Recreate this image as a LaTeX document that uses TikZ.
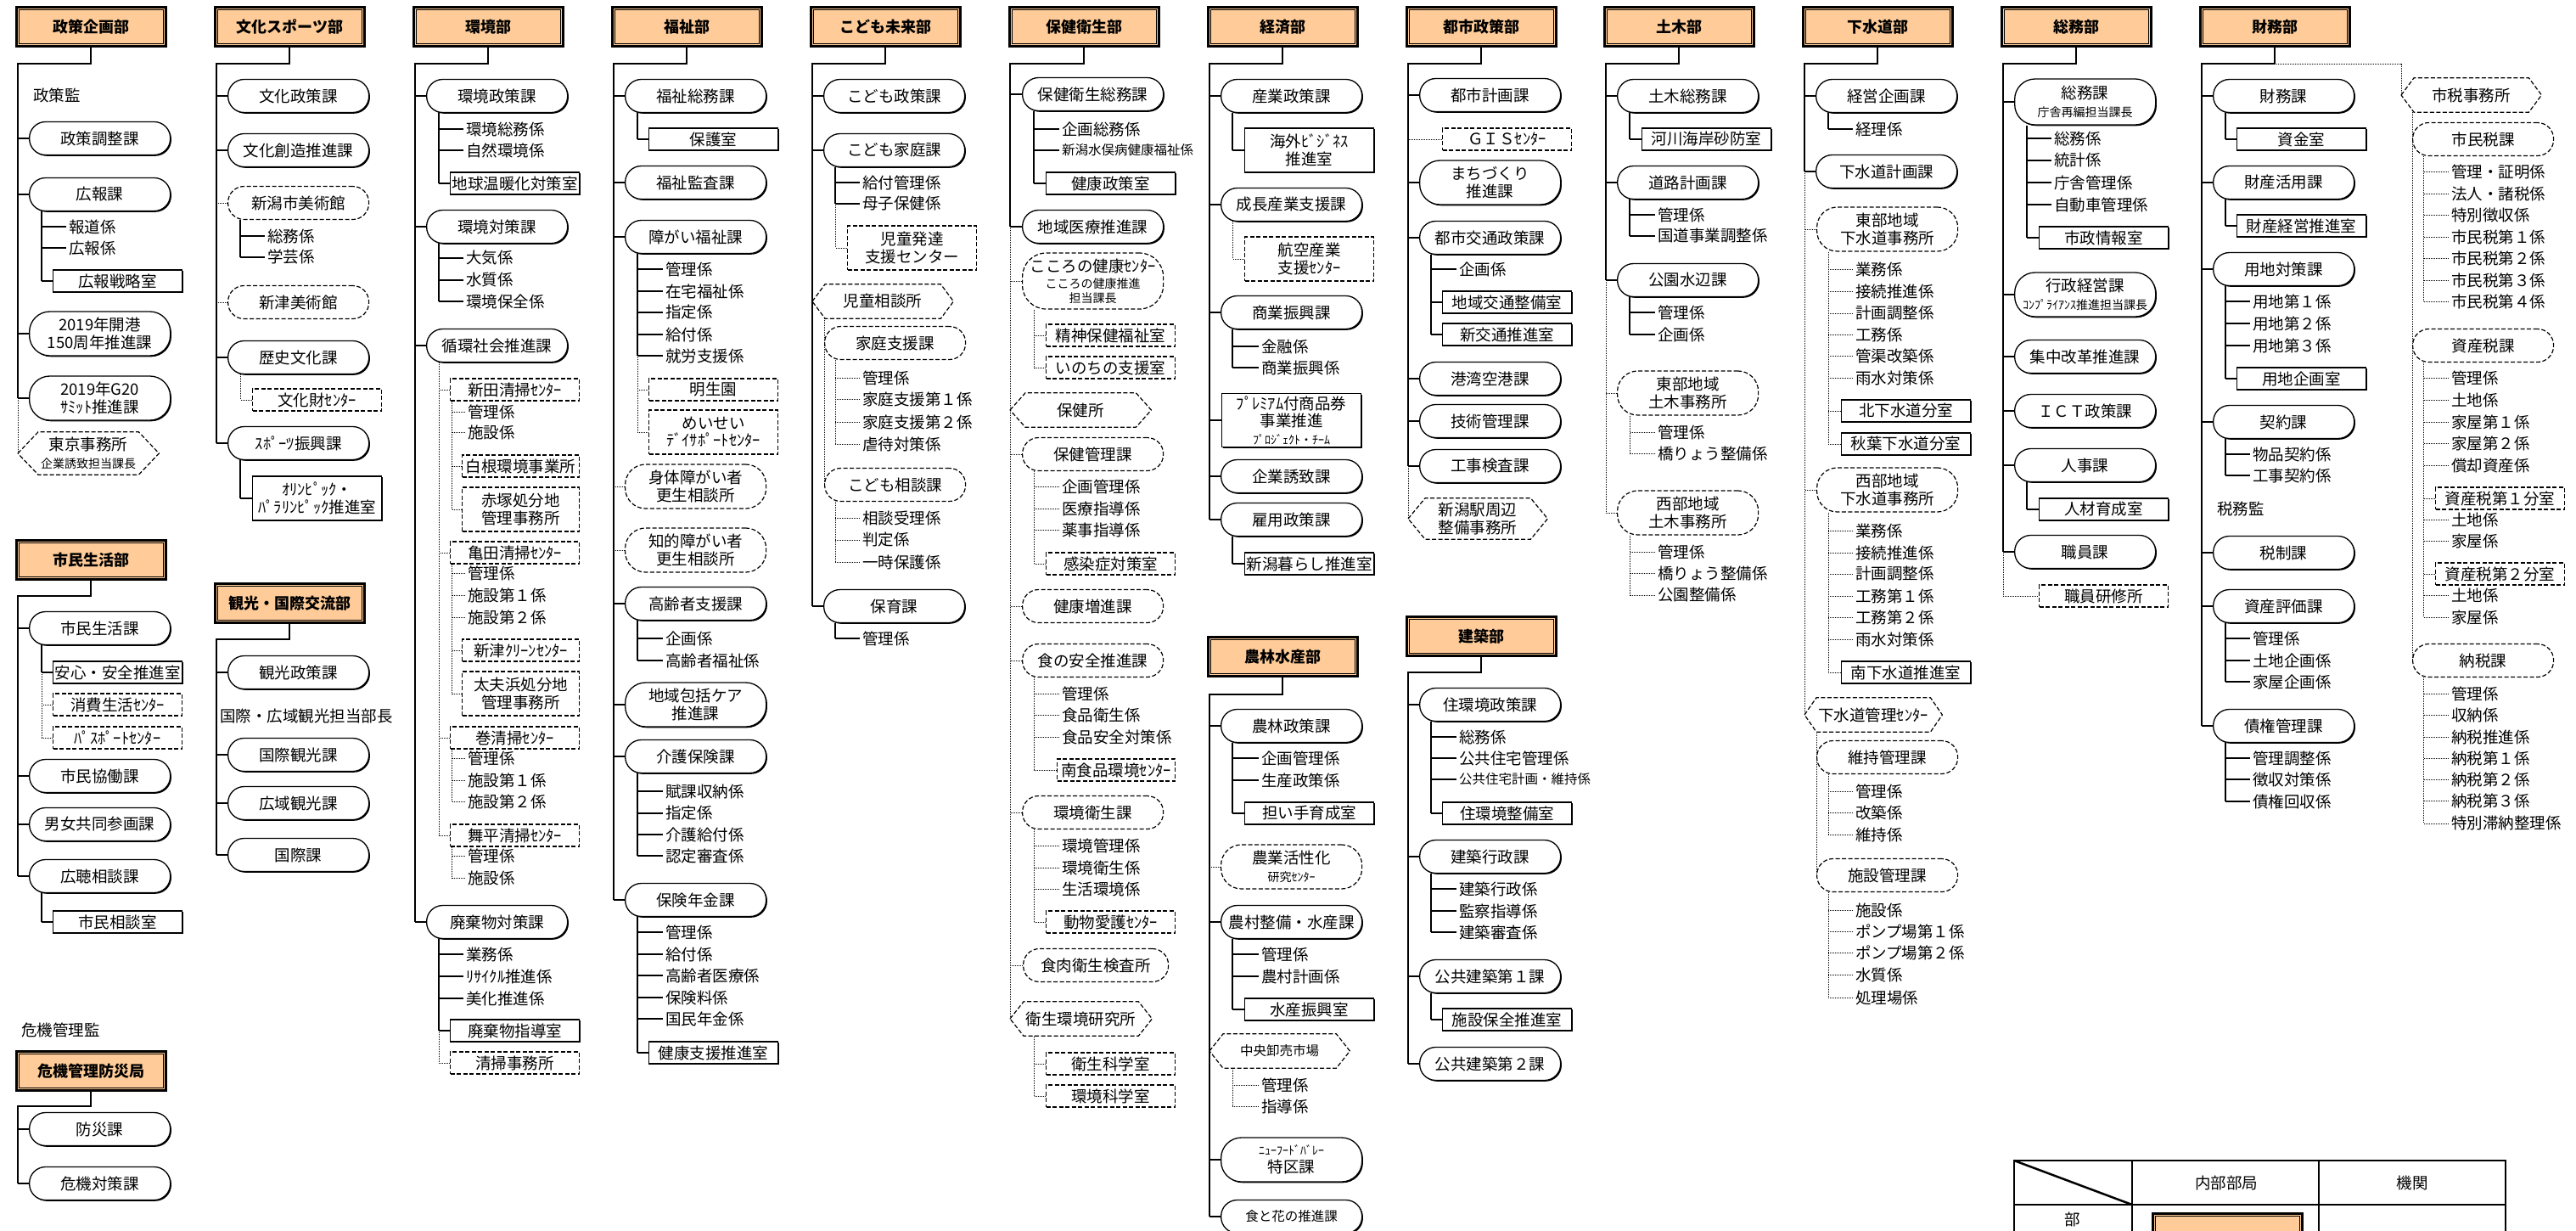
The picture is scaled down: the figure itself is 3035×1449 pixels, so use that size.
\documentclass[tikz,border=0pt]{standalone}
\usepackage{fontspec}
\setmainfont{Noto Sans CJK JP}
\usetikzlibrary{shadows}
\definecolor{deptfill}{HTML}{FFCC99}
\pgfdeclarelayer{bg}
\pgfsetlayers{bg,main}
\newcommand\Fm{\fontsize{18.5pt}{20.5pt}\selectfont}
\newcommand\Fsm{\fontsize{14pt}{16pt}\selectfont}
\newcommand\Fsf{\fontsize{15.5pt}{17pt}\selectfont}
\newcommand\Fh{\fontsize{18pt}{20pt}\selectfont\bfseries}
\newcommand\Hk[2]{\draw[ln] (#2.west) -- (#2.west -| #1);}
\newcommand\Hd[2]{\draw[dl] (#2.west) -- (#2.west -| #1);}
\newcommand\Sv[3]{\draw[ln] (#2.south -| #1) -- (#1 |- #3.west);}
\newcommand\Sd[3]{\draw[dl] (#2.south -| #1) -- (#1 |- #3.west);}
\newcommand\Vd[3]{\draw[dl] (#1 |- #2.west) -- (#1 |- #3.west);}
\newcommand\Dept[4]{\node[dept] (#1) at (#2,#3) {#4};
  \draw[line width=0.8pt] ([shift={(4pt,-4pt)}]#1.north west) rectangle ([shift={(-4pt,4pt)}]#1.south east);}
\newcommand\Hex[2]{\draw[dsh] (#1.west) -- ([xshift=#2pt]#1.north west) -- ([xshift=-#2pt]#1.north east) -- (#1.east) -- ([xshift=-#2pt]#1.south east) -- ([xshift=#2pt]#1.south west) -- cycle;}
\newcommand\Kk[4]{\node[kak] (#1) at (#2,#3) {#4};}
\tikzset{
 ln/.style={line width=1.8pt},
 dl/.style={line width=1pt, dash pattern=on 1pt off 1pt},
 dsh/.style={line width=1.2pt, dash pattern=on 5pt off 2.5pt},
 base/.style={inner sep=0pt, anchor=west, font=\Fm, align=center},
 shd0/.style={drop shadow={shadow xshift=1.3pt, shadow yshift=-1.3pt, fill=black, opacity=1}},
 ka/.style={base, draw, line width=1.3pt, fill=white, rounded corners=19pt, minimum width=166pt, minimum height=39pt, shd0},
 kat/.style={ka, minimum height=52pt, rounded corners=24pt},
 kad/.style={base, draw, dsh, rounded corners=19pt, minimum width=166pt, minimum height=39pt},
 kadt/.style={kad, minimum height=52pt, rounded corners=24pt},
 sh/.style={base, draw, line width=1.3pt, fill=white, minimum width=152pt, minimum height=26pt, shd0},
 shd/.style={base, draw, dsh, minimum width=152pt, minimum height=26pt},
 hx/.style={base, minimum width=166pt, minimum height=40pt},
 kak/.style={inner sep=0pt, outer xsep=3pt, anchor=west, font=\Fm},
 tx/.style={inner sep=0pt, anchor=west, font=\Fm},
 dept/.style={draw, line width=2.6pt, fill=deptfill, minimum width=176pt, minimum height=46pt, inner sep=0pt, anchor=north west, font=\Fh},
}
\begin{document}
\begin{tikzpicture}[x=1pt,y=-1pt]
\useasboundingbox (0,0) rectangle (3035,1449);
% ---------------- column 0
\Dept{h0}{18}{7}{政策企画部}
\coordinate (t0) at (21,75); \coordinate (s0) at (49,0);
\node[tx] (c0p) at (39,112) {政策監};
\node[ka] (c0a) at (34,163) {政策調整課};
\node[ka] (c0b) at (34,229) {広報課};
\Kk{c0b1}{78}{267}{報道係}
\Kk{c0b2}{78}{292}{広報係}
\node[sh] (c0b3) at (62,331) {広報戦略室};
\node[kat] (c0c) at (34,393) {2019年開港\\150周年推進課};
\node[kat] (c0d) at (34,469) {2019年G20\\ｻﾐｯﾄ推進課};
\node[hx, minimum width=166pt, minimum height=50pt] (c0e) at (21,534) {東京事務所\\{\Fsm 企業誘致担当課長}};
\Hex{c0e}{24}
\Dept{h0b}{18}{635}{市民生活部}
\coordinate (t0b) at (21,702);
\node[ka] (c0f) at (34,740) {市民生活課};
\node[sh] (c0f1) at (62,792) {安心・安全推進室};
\node[shd] (c0f2) at (62,830) {消費生活ｾﾝﾀｰ};
\node[shd] (c0f3) at (62,869) {ﾊﾟｽﾎﾟｰﾄｾﾝﾀｰ};
\node[ka] (c0g) at (34,914) {市民協働課};
\node[ka] (c0h) at (34,971) {男女共同参画課};
\node[ka] (c0i) at (34,1032) {広聴相談課};
\node[sh] (c0i1) at (62,1086) {市民相談室};
\node[tx] (c0q) at (25,1213) {危機管理監};
\Dept{h0c}{18}{1237}{危機管理防災局}
\coordinate (t0c) at (21,1303);
\node[ka] (c0r) at (34,1330) {防災課};
\node[ka] (c0s) at (34,1394) {危機対策課};
% ---------------- column 1
\Dept{h1}{252}{7}{文化スポーツ部}
\coordinate (t1) at (255,75); \coordinate (s1) at (283,0);
\node[ka] (c1a) at (268,113) {文化政策課};
\node[ka] (c1b) at (268,177) {文化創造推進課};
\node[kad] (c1c) at (268,239) {新潟市美術館};
\Kk{c1c1}{312}{278}{総務係}
\Kk{c1c2}{312}{303}{学芸係}
\node[kad] (c1d) at (268,356) {新津美術館};
\node[ka] (c1e) at (268,421) {歴史文化課};
\node[shd] (c1e1) at (297,471) {文化財ｾﾝﾀｰ};
\node[ka] (c1f) at (268,522) {ｽﾎﾟｰﾂ振興課};
\node[sh, minimum height=52pt] (c1f1) at (297,587) {ｵﾘﾝﾋﾟｯｸ・\\ﾊﾟﾗﾘﾝﾋﾟｯｸ推進室};
\Dept{h1b}{252}{686}{観光・国際交流部}
\coordinate (t1b) at (255,753);
\node[ka] (c1g) at (268,792) {観光政策課};
\node[tx] (c1p) at (259,843) {国際・広域観光担当部長};
\node[ka] (c1h) at (268,889) {国際観光課};
\node[ka] (c1i) at (268,946) {広域観光課};
\node[ka] (c1j) at (268,1007) {国際課};
% ---------------- column 2
\Dept{h2}{486}{7}{環境部}
\coordinate (t2) at (489,75); \coordinate (s2) at (517,0); \coordinate (u2) at (532,0);
\node[ka] (c2a) at (502,113) {環境政策課};
\Kk{c2a1}{546}{152}{環境総務係}
\Kk{c2a2}{546}{177}{自然環境係}
\node[sh] (c2a3) at (530,216) {地球温暖化対策室};
\node[ka] (c2b) at (502,267) {環境対策課};
\Kk{c2b1}{546}{304}{大気係}
\Kk{c2b2}{546}{330}{水質係}
\Kk{c2b3}{546}{355}{環境保全係}
\node[ka] (c2c) at (502,407) {循環社会推進課};
\node[shd] (c2d) at (530,459) {新田清掃ｾﾝﾀｰ};
\Kk{c2d1}{548}{485}{管理係}
\Kk{c2d2}{548}{509}{施設係}
\node[shd, minimum width=138pt] (c2d3) at (544,549) {白根環境事業所};
\node[shd, minimum width=138pt, minimum height=52pt] (c2d4) at (544,600) {赤塚処分地\\管理事務所};
\node[shd] (c2e) at (530,651) {亀田清掃ｾﾝﾀｰ};
\Kk{c2e1}{548}{675}{管理係}
\Kk{c2e2}{548}{701}{施設第１係}
\Kk{c2e3}{548}{727}{施設第２係}
\node[shd, minimum width=138pt] (c2e4) at (544,766) {新津ｸﾘｰﾝｾﾝﾀｰ};
\node[shd, minimum width=138pt, minimum height=52pt] (c2e5) at (544,817) {太夫浜処分地\\管理事務所};
\node[shd] (c2f) at (530,869) {巻清掃ｾﾝﾀｰ};
\Kk{c2f1}{548}{893}{管理係}
\Kk{c2f2}{548}{919}{施設第１係}
\Kk{c2f3}{548}{944}{施設第２係}
\node[shd] (c2g) at (530,984) {舞平清掃ｾﾝﾀｰ};
\Kk{c2g1}{548}{1008}{管理係}
\Kk{c2g2}{548}{1034}{施設係}
\node[ka] (c2h) at (502,1086) {廃棄物対策課};
\Kk{c2h1}{546}{1124}{業務係}
\Kk{c2h2}{546}{1150}{ﾘｻｲｸﾙ推進係}
\Kk{c2h3}{546}{1176}{美化推進係}
\node[sh] (c2h4) at (530,1214) {廃棄物指導室};
\node[shd] (c2h5) at (530,1252) {清掃事務所};
% ---------------- column 3
\Dept{h3}{720}{7}{福祉部}
\coordinate (t3) at (723,75); \coordinate (s3) at (751,0);
\node[ka] (c3a) at (736,113) {福祉総務課};
\node[sh] (c3a1) at (764,164) {保護室};
\node[ka] (c3b) at (736,215) {福祉監査課};
\node[ka] (c3c) at (736,279) {障がい福祉課};
\Kk{c3c1}{781}{317}{管理係}
\Kk{c3c2}{781}{343}{在宅福祉係}
\Kk{c3c3}{781}{368}{指定係}
\Kk{c3c4}{781}{394}{給付係}
\Kk{c3c5}{781}{419}{就労支援係}
\node[shd] (c3c6) at (764,459) {明生園};
\node[shd, minimum height=52pt] (c3c7) at (764,509) {めいせい\\ﾃﾞｲｻﾎﾟｰﾄｾﾝﾀｰ};
\node[kadt] (c3d) at (736,573) {身体障がい者\\更生相談所};
\node[kadt] (c3e) at (736,648) {知的障がい者\\更生相談所};
\node[ka] (c3f) at (736,711) {高齢者支援課};
\Kk{c3f1}{781}{752}{企画係}
\Kk{c3f2}{781}{778}{高齢者福祉係}
\node[kat] (c3g) at (736,830) {地域包括ケア\\推進課};
\node[ka] (c3h) at (736,891) {介護保険課};
\Kk{c3h1}{781}{932}{賦課収納係}
\Kk{c3h2}{781}{958}{指定係}
\Kk{c3h3}{781}{983}{介護給付係}
\Kk{c3h4}{781}{1008}{認定審査係}
\node[ka] (c3i) at (736,1060) {保険年金課};
\Kk{c3i1}{781}{1098}{管理係}
\Kk{c3i2}{781}{1124}{給付係}
\Kk{c3i3}{781}{1149}{高齢者医療係}
\Kk{c3i4}{781}{1175}{保険料係}
\Kk{c3i5}{781}{1200}{国民年金係}
\node[sh] (c3i6) at (764,1240) {健康支援推進室};
% ---------------- column 4
\Dept{h4}{954}{7}{こども未来部}
\coordinate (t4) at (957,75); \coordinate (s4) at (984,0); \coordinate (v4) at (971,0);
\node[ka] (c4a) at (970,113) {こども政策課};
\node[ka] (c4b) at (970,177) {こども家庭課};
\Kk{c4b1}{1013}{215}{給付管理係}
\Kk{c4b2}{1013}{240}{母子保健係}
\node[shd, minimum height=52pt] (c4b3) at (998,292) {児童発達\\支援センター};
\node[hx] (c4c) at (957,355) {児童相談所};
\Hex{c4c}{15}
\node[kad] (c4d) at (971,404) {家庭支援課};
\Kk{c4d1}{1013}{445}{管理係}
\Kk{c4d2}{1013}{470}{家庭支援第１係}
\Kk{c4d3}{1013}{497}{家庭支援第２係}
\Kk{c4d4}{1013}{523}{虐待対策係}
\node[kad] (c4e) at (971,571) {こども相談課};
\Kk{c4e1}{1013}{610}{相談受理係}
\Kk{c4e2}{1013}{636}{判定係}
\Kk{c4e3}{1013}{662}{一時保護係}
\node[ka] (c4f) at (970,714) {保育課};
\Kk{c4f1}{1013}{752}{管理係}
% ---------------- column 5
\Dept{h5}{1188}{7}{保健衛生部}
\coordinate (t5) at (1190,75); \coordinate (s5) at (1218,0);
\node[ka] (c5a) at (1204,111) {保健衛生総務課};
\Kk{c5a1}{1248}{152}{企画総務係}
\node[kak, font=\Fsf] (c5a2) at (1248,177) {新潟水俣病健康福祉係};
\node[sh] (c5a3) at (1232,216) {健康政策室};
\node[ka] (c5b) at (1204,267) {地域医療推進課};
\node[kad, minimum height=66pt, rounded corners=28pt] (c5c) at (1204,331) {こころの健康ｾﾝﾀｰ\\[-1pt]{\Fsm こころの健康推進}\\[-4pt]{\Fsm 担当課長}};
\node[shd] (c5c1) at (1232,395) {精神保健福祉室};
\node[shd] (c5c2) at (1232,433) {いのちの支援室};
\node[hx] (c5d) at (1190,483) {保健所};
\Hex{c5d}{18}
\node[kad] (c5e) at (1204,535) {保健管理課};
\Kk{c5e1}{1248}{573}{企画管理係}
\Kk{c5e2}{1248}{599}{医療指導係}
\Kk{c5e3}{1248}{624}{薬事指導係}
\node[shd] (c5e4) at (1232,664) {感染症対策室};
\node[kad] (c5f) at (1204,714) {健康増進課};
\node[kad] (c5g) at (1204,778) {食の安全推進課};
\Kk{c5g1}{1248}{817}{管理係}
\Kk{c5g2}{1248}{842}{食品衛生係}
\Kk{c5g3}{1248}{868}{食品安全対策係}
\node[shd, minimum width=139pt] (c5g4) at (1245,907) {南食品環境ｾﾝﾀｰ};
\node[kad] (c5h) at (1204,957) {環境衛生課};
\Kk{c5h1}{1248}{996}{環境管理係}
\Kk{c5h2}{1248}{1022}{環境衛生係}
\Kk{c5h3}{1248}{1047}{生活環境係}
\node[shd] (c5h4) at (1232,1086) {動物愛護ｾﾝﾀｰ};
\node[kad, minimum width=171pt] (c5i) at (1205,1137) {食肉衛生検査所};
\node[hx, minimum width=167pt] (c5j) at (1190,1200) {衛生環境研究所};
\Hex{c5j}{16}
\node[shd] (c5j1) at (1232,1253) {衛生科学室};
\node[shd] (c5j2) at (1232,1291) {環境科学室};
% ---------------- column 6
\Dept{h6}{1422}{7}{経済部}
\coordinate (t6) at (1425,75); \coordinate (s6) at (1452,0);
\node[ka] (c6a) at (1438,113) {産業政策課};
\node[sh, minimum height=52pt] (c6a1) at (1466,177) {海外ﾋﾞｼﾞﾈｽ\\推進室};
\node[ka] (c6b) at (1438,241) {成長産業支援課};
\node[shd, minimum height=52pt] (c6b1) at (1466,305) {航空産業\\支援ｾﾝﾀｰ};
\node[ka] (c6c) at (1438,368) {商業振興課};
\Kk{c6c1}{1483}{408}{金融係}
\Kk{c6c2}{1483}{433}{商業振興係}
\node[sh, minimum width=164pt, minimum height=63pt] (c6d) at (1439,495) {ﾌﾟﾚﾐｱﾑ付商品券\\事業推進\\{\Fsm ﾌﾟﾛｼﾞｪｸﾄ・ﾁｰﾑ}};
\node[ka] (c6e) at (1438,561) {企業誘致課};
\node[ka] (c6f) at (1438,612) {雇用政策課};
\node[sh] (c6f1) at (1466,664) {新潟暮らし推進室};
\Dept{h6b}{1422}{749}{農林水産部}
\coordinate (t6b) at (1425,818);
\node[ka] (c6g) at (1438,855) {農林政策課};
\Kk{c6g1}{1483}{893}{企画管理係}
\Kk{c6g2}{1483}{919}{生産政策係}
\node[sh] (c6g3) at (1466,958) {担い手育成室};
\node[kadt] (c6h) at (1438,1021) {農業活性化\\{\Fsm 研究ｾﾝﾀｰ}};
\node[ka] (c6i) at (1438,1086) {農村整備・水産課};
\Kk{c6i1}{1483}{1124}{管理係}
\Kk{c6i2}{1483}{1150}{農村計画係}
\node[sh] (c6i3) at (1466,1189) {水産振興室};
\node[hx, minimum width=165pt, font=\Fsf] (c6j) at (1425,1238) {中央卸売市場};
\Hex{c6j}{16}
\Kk{c6j1}{1483}{1278}{管理係}
\Kk{c6j2}{1483}{1303}{指導係}
\node[kat] (c6k) at (1438,1366) {{\Fsm ﾆｭｰﾌｰﾄﾞﾊﾞﾚｰ}\\特区課};
\node[ka, font=\Fsf] (c6l) at (1438,1433) {食と花の推進課};
% ---------------- column 7
\Dept{h7}{1656}{7}{都市政策部}
\coordinate (t7) at (1659,75); \coordinate (s7) at (1686,0);
\node[ka] (c7a) at (1672,112) {都市計画課};
\node[shd] (c7b) at (1699,164) {ＧＩＳｾﾝﾀｰ};
\node[kat] (c7c) at (1672,215) {まちづくり\\推進課};
\node[ka] (c7d) at (1672,280) {都市交通政策課};
\Kk{c7d1}{1716}{317}{企画係}
\node[sh] (c7d2) at (1699,356) {地域交通整備室};
\node[sh] (c7d3) at (1699,394) {新交通推進室};
\node[ka] (c7e) at (1672,446) {港湾空港課};
\node[ka] (c7f) at (1672,496) {技術管理課};
\node[ka] (c7g) at (1672,549) {工事検査課};
\node[hx, minimum width=164pt, minimum height=48pt] (c7h) at (1659,611) {新潟駅周辺\\整備事務所};
\Hex{c7h}{20}
\Dept{h7b}{1656}{725}{建築部}
\coordinate (t7b) at (1659,792);
\node[ka] (c7i) at (1672,830) {住環境政策課};
\Kk{c7i1}{1716}{868}{総務係}
\Kk{c7i2}{1716}{893}{公共住宅管理係}
\node[kak, font=\Fsf] (c7i3) at (1716,918) {公共住宅計画・維持係};
\node[sh] (c7i4) at (1699,958) {住環境整備室};
\node[ka] (c7j) at (1672,1009) {建築行政課};
\Kk{c7j1}{1716}{1047}{建築行政係}
\Kk{c7j2}{1716}{1073}{監察指導係}
\Kk{c7j3}{1716}{1098}{建築審査係}
\node[ka] (c7k) at (1672,1150) {公共建築第１課};
\node[sh] (c7k1) at (1699,1201) {施設保全推進室};
\node[ka] (c7l) at (1672,1253) {公共建築第２課};
% ---------------- column 8
\Dept{h8}{1889}{7}{土木部}
\coordinate (t8) at (1892,75); \coordinate (s8) at (1920,0);
\node[ka] (c8a) at (1905,113) {土木総務課};
\node[sh] (c8a1) at (1934,164) {河川海岸砂防室};
\node[ka] (c8b) at (1905,215) {道路計画課};
\Kk{c8b1}{1950}{253}{管理係}
\Kk{c8b2}{1950}{278}{国道事業調整係}
\node[ka] (c8c) at (1905,330) {公園水辺課};
\Kk{c8c1}{1950}{368}{管理係}
\Kk{c8c2}{1950}{394}{企画係}
\node[kadt] (c8d) at (1905,463) {東部地域\\土木事務所};
\Kk{c8d1}{1950}{509}{管理係}
\Kk{c8d2}{1950}{534}{橋りょう整備係}
\node[kadt] (c8e) at (1905,604) {西部地域\\土木事務所};
\Kk{c8e1}{1950}{650}{管理係}
\Kk{c8e2}{1950}{675}{橋りょう整備係}
\Kk{c8e3}{1950}{701}{公園整備係}
% ---------------- column 9
\Dept{h9}{2123}{7}{下水道部}
\coordinate (t9) at (2126,75); \coordinate (s9) at (2154,0); \coordinate (v9) at (2140,0);
\node[ka] (c9a) at (2139,113) {経営企画課};
\Kk{c9a1}{2183}{152}{経理係}
\node[ka] (c9b) at (2139,202) {下水道計画課};
\node[kadt] (c9c) at (2140,270) {東部地域\\下水道事務所};
\Kk{c9c1}{2183}{317}{業務係}
\Kk{c9c2}{2183}{343}{接続推進係}
\Kk{c9c3}{2183}{369}{計画調整係}
\Kk{c9c4}{2183}{394}{工務係}
\Kk{c9c5}{2183}{419}{管渠改築係}
\Kk{c9c6}{2183}{445}{雨水対策係}
\node[sh] (c9c7) at (2169,484) {北下水道分室};
\node[sh] (c9c8) at (2169,523) {秋葉下水道分室};
\node[kadt] (c9d) at (2140,577) {西部地域\\下水道事務所};
\Kk{c9d1}{2183}{625}{業務係}
\Kk{c9d2}{2183}{651}{接続推進係}
\Kk{c9d3}{2183}{676}{計画調整係}
\Kk{c9d4}{2183}{702}{工務第１係}
\Kk{c9d5}{2183}{727}{工務第２係}
\Kk{c9d6}{2183}{753}{雨水対策係}
\node[sh] (c9d7) at (2169,792) {南下水道推進室};
\node[hx, minimum width=162pt] (c9e) at (2126,842) {下水道管理ｾﾝﾀｰ};
\Hex{c9e}{14}
\node[kad] (c9f) at (2140,892) {維持管理課};
\Kk{c9f1}{2183}{932}{管理係}
\Kk{c9f2}{2183}{957}{改築係}
\Kk{c9f3}{2183}{983}{維持係}
\node[kad] (c9g) at (2140,1031) {施設管理課};
\Kk{c9g1}{2183}{1072}{施設係}
\Kk{c9g2}{2183}{1097}{ポンプ場第１係}
\Kk{c9g3}{2183}{1122}{ポンプ場第２係}
\Kk{c9g4}{2183}{1148}{水質係}
\Kk{c9g5}{2183}{1175}{処理場係}
% ---------------- column 10
\Dept{h10}{2357}{7}{総務部}
\coordinate (t10) at (2360,75); \coordinate (s10) at (2388,0);
\node[ka, minimum height=54pt, rounded corners=24pt] (c10a) at (2373,120) {総務課\\[1pt]{\Fsm 庁舎再編担当課長}};
\Kk{c10a1}{2417}{163}{総務係}
\Kk{c10a2}{2417}{189}{統計係}
\Kk{c10a3}{2417}{215}{庁舎管理係}
\Kk{c10a4}{2417}{241}{自動車管理係}
\node[sh] (c10a5) at (2402,280) {市政情報室};
\node[kat] (c10b) at (2373,347) {行政経営課\\{\Fsm ｺﾝﾌﾟﾗｲｱﾝｽ推進担当課長}};
\node[ka] (c10c) at (2373,420) {集中改革推進課};
\node[ka] (c10d) at (2373,484) {ＩＣＴ政策課};
\node[ka] (c10e) at (2373,548) {人事課};
\node[sh] (c10e1) at (2402,600) {人材育成室};
\node[ka] (c10f) at (2373,650) {職員課};
\node[shd] (c10g) at (2402,702) {職員研修所};
% ---------------- column 11
\Dept{h11}{2591}{7}{財務部}
\coordinate (t11) at (2594,75); \coordinate (s11) at (2622,0); \coordinate (j11) at (2829,75);
\node[ka] (c11a) at (2607,113) {財務課};
\node[sh] (c11a1) at (2635,164) {資金室};
\node[ka] (c11b) at (2607,215) {財産活用課};
\node[sh] (c11b1) at (2635,266) {財産経営推進室};
\node[ka] (c11c) at (2607,317) {用地対策課};
\Kk{c11c1}{2651}{355}{用地第１係}
\Kk{c11c2}{2651}{381}{用地第２係}
\Kk{c11c3}{2651}{407}{用地第３係}
\node[sh] (c11c4) at (2635,446) {用地企画室};
\node[ka] (c11d) at (2607,497) {契約課};
\Kk{c11d1}{2651}{535}{物品契約係}
\Kk{c11d2}{2651}{560}{工事契約係}
\node[tx] (c11p) at (2612,599) {税務監};
\node[ka] (c11e) at (2607,651) {税制課};
\node[ka] (c11f) at (2607,714) {資産評価課};
\Kk{c11f1}{2651}{752}{管理係}
\Kk{c11f2}{2651}{778}{土地企画係}
\Kk{c11f3}{2651}{803}{家屋企画係}
\node[ka] (c11g) at (2607,855) {債権管理課};
\Kk{c11g1}{2651}{893}{管理調整係}
\Kk{c11g2}{2651}{918}{徴収対策係}
\Kk{c11g3}{2651}{944}{債権回収係}
% ---------------- column 12
\coordinate (t12) at (2842,0); \coordinate (s12) at (2855,0);
\node[hx, minimum width=165pt] (c12a) at (2829,112) {市税事務所};
\Hex{c12a}{15}
\node[kad] (c12b) at (2842,164) {市民税課};
\Kk{c12b1}{2885}{202}{管理・証明係}
\Kk{c12b2}{2885}{228}{法人・諸税係}
\Kk{c12b3}{2885}{253}{特別徴収係}
\Kk{c12b4}{2885}{279}{市民税第１係}
\Kk{c12b5}{2885}{304}{市民税第２係}
\Kk{c12b6}{2885}{330}{市民税第３係}
\Kk{c12b7}{2885}{355}{市民税第４係}
\node[kad] (c12c) at (2842,407) {資産税課};
\Kk{c12c1}{2885}{445}{管理係}
\Kk{c12c2}{2885}{471}{土地係}
\Kk{c12c3}{2885}{497}{家屋第１係}
\Kk{c12c4}{2885}{522}{家屋第２係}
\Kk{c12c5}{2885}{548}{償却資産係}
\node[shd] (c12c6) at (2869,587) {資産税第１分室};
\Kk{c12c7}{2885}{612}{土地係}
\Kk{c12c8}{2885}{637}{家屋係}
\node[shd] (c12c9) at (2869,676) {資産税第２分室};
\Kk{c12c10}{2885}{701}{土地係}
\Kk{c12c11}{2885}{727}{家屋係}
\node[kad] (c12d) at (2842,778) {納税課};
\Kk{c12d1}{2885}{817}{管理係}
\Kk{c12d2}{2885}{842}{収納係}
\Kk{c12d3}{2885}{868}{納税推進係}
\Kk{c12d4}{2885}{893}{納税第１係}
\Kk{c12d5}{2885}{918}{納税第２係}
\Kk{c12d6}{2885}{943}{納税第３係}
\Kk{c12d7}{2885}{970}{特別滞納整理係}
% ---------------- legend
\node[font=\Fm] (lg1) at (2623,1393) {内部部局};
\node[font=\Fm] (lg2) at (2842,1393) {機関};
\node[font=\Fm] (lg3) at (2442,1436) {部};
\Dept{lg4}{2535}{1428}{}
\draw[line width=1.5pt] (2373,1367) rectangle (2952,1480);
\draw[line width=1.5pt] (2512,1367) -- (2512,1480) (2732,1367) -- (2732,1480) (2373,1419) -- (2952,1419);
\draw[line width=2.5pt] (2373,1367) -- (2512,1419);
% ================= connectors
\begin{pgfonlayer}{bg}
\fill[white] (0,0) rectangle (3035,1449);
% col 0
\draw[ln] (h0.south) |- (t0) -- (t0 |- c0d.west);
\draw[dl] (t0 |- c0d.west) -- (c0e.west);
\Hk{t0}{c0a}\Hk{t0}{c0b}\Hk{t0}{c0c}\Hk{t0}{c0d}
\Sv{s0}{c0b}{c0b3}\Hk{s0}{c0b1}\Hk{s0}{c0b2}\Hk{s0}{c0b3}
\draw[ln] (h0b.south) |- (t0b) -- (t0b |- c0i.west);
\Hk{t0b}{c0f}\Hk{t0b}{c0g}\Hk{t0b}{c0h}\Hk{t0b}{c0i}
\Sv{s0}{c0f}{c0f1}\Hk{s0}{c0f1}\Vd{s0}{c0f1}{c0f3}\Hd{s0}{c0f2}\Hd{s0}{c0f3}
\Sv{s0}{c0i}{c0i1}\Hk{s0}{c0i1}
\draw[ln] (h0c.south) |- (t0c) -- (t0c |- c0s.west);
\Hk{t0c}{c0r}\Hk{t0c}{c0s}
% col 1
\draw[ln] (h1.south) |- (t1) -- (t1 |- c1f.west);
\Hk{t1}{c1a}\Hk{t1}{c1b}\Hd{t1}{c1c}\Hd{t1}{c1d}\Hk{t1}{c1e}\Hk{t1}{c1f}
\Sv{s1}{c1c}{c1c2}\Hk{s1}{c1c1}\Hk{s1}{c1c2}
\Sd{s1}{c1e}{c1e1}\Hd{s1}{c1e1}
\Sv{s1}{c1f}{c1f1}\Hk{s1}{c1f1}
\draw[ln] (h1b.south) |- (t1b) -- (t1b |- c1j.west);
\Hk{t1b}{c1g}\Hk{t1b}{c1h}\Hk{t1b}{c1i}\Hk{t1b}{c1j}
% col 2
\draw[ln] (h2.south) |- (t2) -- (t2 |- c2h.west);
\Hk{t2}{c2a}\Hk{t2}{c2b}\Hk{t2}{c2c}\Hk{t2}{c2h}
\Sv{s2}{c2a}{c2a3}\Hk{s2}{c2a1}\Hk{s2}{c2a2}\Hk{s2}{c2a3}
\Sv{s2}{c2b}{c2b3}\Hk{s2}{c2b1}\Hk{s2}{c2b2}\Hk{s2}{c2b3}
\Sd{s2}{c2c}{c2g}\Hd{s2}{c2d}\Hd{s2}{c2e}\Hd{s2}{c2f}\Hd{s2}{c2g}
\Sd{u2}{c2d}{c2d4}\Hd{u2}{c2d1}\Hd{u2}{c2d2}\Hd{u2}{c2d3}\Hd{u2}{c2d4}
\Sd{u2}{c2e}{c2e5}\Hd{u2}{c2e1}\Hd{u2}{c2e2}\Hd{u2}{c2e3}\Hd{u2}{c2e4}\Hd{u2}{c2e5}
\Sd{u2}{c2f}{c2f3}\Hd{u2}{c2f1}\Hd{u2}{c2f2}\Hd{u2}{c2f3}
\Sd{u2}{c2g}{c2g2}\Hd{u2}{c2g1}\Hd{u2}{c2g2}
\Sv{s2}{c2h}{c2h4}\Hk{s2}{c2h1}\Hk{s2}{c2h2}\Hk{s2}{c2h3}\Hk{s2}{c2h4}
\Vd{s2}{c2h4}{c2h5}\Hd{s2}{c2h5}
% col 3
\draw[ln] (h3.south) |- (t3) -- (t3 |- c3i.west);
\Hk{t3}{c3a}\Hk{t3}{c3b}\Hk{t3}{c3c}\Hd{t3}{c3d}\Hd{t3}{c3e}\Hk{t3}{c3f}\Hk{t3}{c3g}\Hk{t3}{c3h}\Hk{t3}{c3i}
\Sv{s3}{c3a}{c3a1}\Hk{s3}{c3a1}
\Sv{s3}{c3c}{c3c5}\Hk{s3}{c3c1}\Hk{s3}{c3c2}\Hk{s3}{c3c3}\Hk{s3}{c3c4}\Hk{s3}{c3c5}
\Vd{s3}{c3c5}{c3c7}\Hd{s3}{c3c6}\Hd{s3}{c3c7}
\Sv{s3}{c3f}{c3f2}\Hk{s3}{c3f1}\Hk{s3}{c3f2}
\Sv{s3}{c3h}{c3h4}\Hk{s3}{c3h1}\Hk{s3}{c3h2}\Hk{s3}{c3h3}\Hk{s3}{c3h4}
\Sv{s3}{c3i}{c3i6}\Hk{s3}{c3i1}\Hk{s3}{c3i2}\Hk{s3}{c3i3}\Hk{s3}{c3i4}\Hk{s3}{c3i5}\Hk{s3}{c3i6}
% col 4
\draw[ln] (h4.south) |- (t4) -- (t4 |- c4f.west);
\Hk{t4}{c4a}\Hk{t4}{c4b}\Hk{t4}{c4f}
\Sv{s4}{c4b}{c4b2}\Hk{s4}{c4b1}\Hk{s4}{c4b2}\Vd{s4}{c4b2}{c4b3}\Hd{s4}{c4b3}
\Sd{v4}{c4c}{c4e}
\Sd{s4}{c4d}{c4d4}\Hd{s4}{c4d1}\Hd{s4}{c4d2}\Hd{s4}{c4d3}\Hd{s4}{c4d4}
\Sd{s4}{c4e}{c4e3}\Hd{s4}{c4e1}\Hd{s4}{c4e2}\Hd{s4}{c4e3}
\Sv{s4}{c4f}{c4f1}\Hk{s4}{c4f1}
% col 5
\draw[ln] (h5.south) |- (t5) -- (t5 |- c5b.west);
\draw[dl] (t5 |- c5b.west) -- (t5 |- c5j.west);
\Hk{t5}{c5a}\Hk{t5}{c5b}\Hd{t5}{c5c}\Hd{t5}{c5e}\Hd{t5}{c5f}\Hd{t5}{c5g}\Hd{t5}{c5h}\Hd{t5}{c5i}
\Sv{s5}{c5a}{c5a3}\Hk{s5}{c5a1}\Hk{s5}{c5a2}\Hk{s5}{c5a3}
\Sd{s5}{c5c}{c5c2}\Hd{s5}{c5c1}\Hd{s5}{c5c2}
\Sd{s5}{c5e}{c5e4}\Hd{s5}{c5e1}\Hd{s5}{c5e2}\Hd{s5}{c5e3}\Hd{s5}{c5e4}
\Sd{s5}{c5g}{c5g4}\Hd{s5}{c5g1}\Hd{s5}{c5g2}\Hd{s5}{c5g3}\Hd{s5}{c5g4}
\Sd{s5}{c5h}{c5h4}\Hd{s5}{c5h1}\Hd{s5}{c5h2}\Hd{s5}{c5h3}\Hd{s5}{c5h4}
\Sd{s5}{c5j}{c5j2}\Hd{s5}{c5j1}\Hd{s5}{c5j2}
% col 6
\draw[ln] (h6.south) |- (t6) -- (t6 |- c6f.west);
\Hk{t6}{c6a}\Hk{t6}{c6b}\Hk{t6}{c6c}\Hk{t6}{c6d}\Hk{t6}{c6e}\Hk{t6}{c6f}
\Sv{s6}{c6a}{c6a1}\Hk{s6}{c6a1}
\Sd{s6}{c6b}{c6b1}\Hd{s6}{c6b1}
\Sv{s6}{c6c}{c6c2}\Hk{s6}{c6c1}\Hk{s6}{c6c2}
\Sv{s6}{c6f}{c6f1}\Hk{s6}{c6f1}
\draw[ln] (h6b.south) |- (t6b) -- (t6b |- c6l.west);
\Hk{t6b}{c6g}\Hd{t6b}{c6h}\Hk{t6b}{c6i}\Hk{t6b}{c6k}\Hk{t6b}{c6l}
\Sv{s6}{c6g}{c6g3}\Hk{s6}{c6g1}\Hk{s6}{c6g2}\Hk{s6}{c6g3}
\Sv{s6}{c6i}{c6i3}\Hk{s6}{c6i1}\Hk{s6}{c6i2}\Hk{s6}{c6i3}
\Sd{s6}{c6j}{c6j2}\Hd{s6}{c6j1}\Hd{s6}{c6j2}
% col 7
\draw[ln] (h7.south) |- (t7) -- (t7 |- c7g.west);
\draw[dl] (t7 |- c7g.west) -- (c7h.west);
\Hk{t7}{c7a}\Hd{t7}{c7b}\Hk{t7}{c7c}\Hk{t7}{c7d}\Hk{t7}{c7e}\Hk{t7}{c7f}\Hk{t7}{c7g}
\Sv{s7}{c7d}{c7d3}\Hk{s7}{c7d1}\Hk{s7}{c7d2}\Hk{s7}{c7d3}
\draw[ln] (h7b.south) |- (t7b) -- (t7b |- c7l.west);
\Hk{t7b}{c7i}\Hk{t7b}{c7j}\Hk{t7b}{c7k}\Hk{t7b}{c7l}
\Sv{s7}{c7i}{c7i4}\Hk{s7}{c7i1}\Hk{s7}{c7i2}\Hk{s7}{c7i3}\Hk{s7}{c7i4}
\Sv{s7}{c7j}{c7j3}\Hk{s7}{c7j1}\Hk{s7}{c7j2}\Hk{s7}{c7j3}
\Sv{s7}{c7k}{c7k1}\Hk{s7}{c7k1}
% col 8
\draw[ln] (h8.south) |- (t8) -- (t8 |- c8c.west);
\draw[dl] (t8 |- c8c.west) -- (t8 |- c8e.west);
\Hk{t8}{c8a}\Hk{t8}{c8b}\Hk{t8}{c8c}\Hd{t8}{c8d}\Hd{t8}{c8e}
\Sv{s8}{c8a}{c8a1}\Hk{s8}{c8a1}
\Sv{s8}{c8b}{c8b2}\Hk{s8}{c8b1}\Hk{s8}{c8b2}
\Sv{s8}{c8c}{c8c2}\Hk{s8}{c8c1}\Hk{s8}{c8c2}
\Sd{s8}{c8d}{c8d2}\Hd{s8}{c8d1}\Hd{s8}{c8d2}
\Sd{s8}{c8e}{c8e3}\Hd{s8}{c8e1}\Hd{s8}{c8e2}\Hd{s8}{c8e3}
% col 9
\draw[ln] (h9.south) |- (t9) -- (t9 |- c9b.west);
\draw[dl] (t9 |- c9b.west) -- (t9 |- c9e.west);
\Hk{t9}{c9a}\Hk{t9}{c9b}\Hd{t9}{c9c}\Hd{t9}{c9d}
\Sv{s9}{c9a}{c9a1}\Hk{s9}{c9a1}
\Sd{s9}{c9c}{c9c8}\Hd{s9}{c9c1}\Hd{s9}{c9c2}\Hd{s9}{c9c3}\Hd{s9}{c9c4}\Hd{s9}{c9c5}\Hd{s9}{c9c6}\Hd{s9}{c9c7}\Hd{s9}{c9c8}
\Sd{s9}{c9d}{c9d7}\Hd{s9}{c9d1}\Hd{s9}{c9d2}\Hd{s9}{c9d3}\Hd{s9}{c9d4}\Hd{s9}{c9d5}\Hd{s9}{c9d6}\Hd{s9}{c9d7}
\Sd{v9}{c9e}{c9g}
\Sd{s9}{c9f}{c9f3}\Hd{s9}{c9f1}\Hd{s9}{c9f2}\Hd{s9}{c9f3}
\Sd{s9}{c9g}{c9g5}\Hd{s9}{c9g1}\Hd{s9}{c9g2}\Hd{s9}{c9g3}\Hd{s9}{c9g4}\Hd{s9}{c9g5}
% col 10
\draw[ln] (h10.south) |- (t10) -- (t10 |- c10f.west);
\draw[dl] (t10 |- c10f.west) |- (c10g.west);
\Hk{t10}{c10a}\Hk{t10}{c10b}\Hk{t10}{c10c}\Hk{t10}{c10d}\Hk{t10}{c10e}\Hk{t10}{c10f}
\Sv{s10}{c10a}{c10a5}\Hk{s10}{c10a1}\Hk{s10}{c10a2}\Hk{s10}{c10a3}\Hk{s10}{c10a4}\Hk{s10}{c10a5}
\Sv{s10}{c10e}{c10e1}\Hk{s10}{c10e1}
% col 11
\draw[ln] (h11.south) |- (t11) -- (t11 |- c11g.west);
\draw[dl] (h11.south |- t11) -- (j11) -- (c12a.west);
\Hk{t11}{c11a}\Hk{t11}{c11b}\Hk{t11}{c11c}\Hk{t11}{c11d}\Hk{t11}{c11e}\Hk{t11}{c11f}\Hk{t11}{c11g}
\Sv{s11}{c11a}{c11a1}\Hk{s11}{c11a1}
\Sv{s11}{c11b}{c11b1}\Hk{s11}{c11b1}
\Sv{s11}{c11c}{c11c4}\Hk{s11}{c11c1}\Hk{s11}{c11c2}\Hk{s11}{c11c3}\Hk{s11}{c11c4}
\Sv{s11}{c11d}{c11d2}\Hk{s11}{c11d1}\Hk{s11}{c11d2}
\Sv{s11}{c11f}{c11f3}\Hk{s11}{c11f1}\Hk{s11}{c11f2}\Hk{s11}{c11f3}
\Sv{s11}{c11g}{c11g3}\Hk{s11}{c11g1}\Hk{s11}{c11g2}\Hk{s11}{c11g3}
% col 12
\Sd{t12}{c12a}{c12d}
\Sd{s12}{c12b}{c12b7}\Hd{s12}{c12b1}\Hd{s12}{c12b2}\Hd{s12}{c12b3}\Hd{s12}{c12b4}\Hd{s12}{c12b5}\Hd{s12}{c12b6}\Hd{s12}{c12b7}
\Sd{s12}{c12c}{c12c11}\Hd{s12}{c12c1}\Hd{s12}{c12c2}\Hd{s12}{c12c3}\Hd{s12}{c12c4}\Hd{s12}{c12c5}\Hd{s12}{c12c6}\Hd{s12}{c12c7}\Hd{s12}{c12c8}\Hd{s12}{c12c9}\Hd{s12}{c12c10}\Hd{s12}{c12c11}
\Sd{s12}{c12d}{c12d7}\Hd{s12}{c12d1}\Hd{s12}{c12d2}\Hd{s12}{c12d3}\Hd{s12}{c12d4}\Hd{s12}{c12d5}\Hd{s12}{c12d6}\Hd{s12}{c12d7}
\end{pgfonlayer}
\end{tikzpicture}
\end{document}
